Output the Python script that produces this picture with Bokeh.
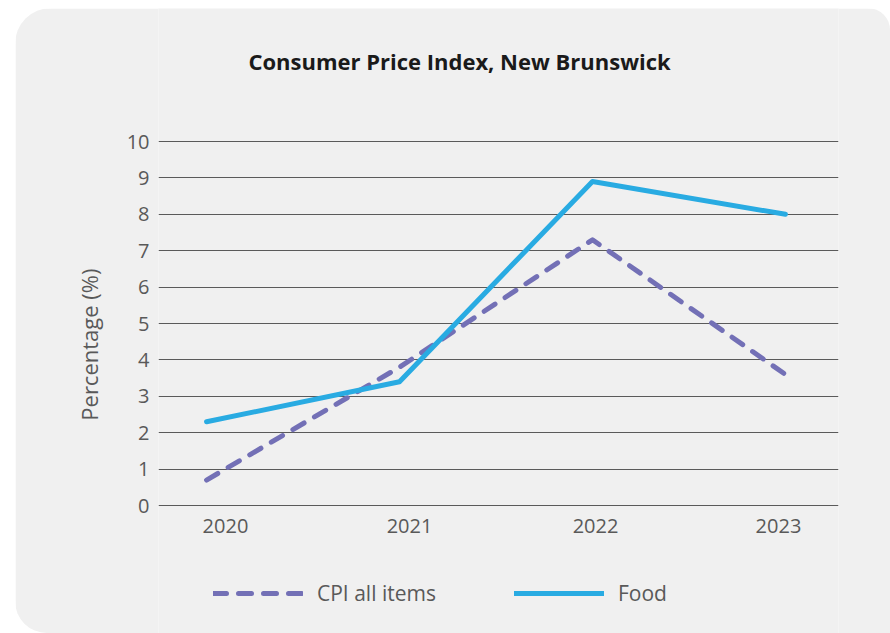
from bokeh.plotting import figure
from bokeh.models import Legend, LegendItem, FixedTicker, Title, ColumnDataSource, Label
from bokeh.core.properties import value
from bokeh.embed import file_html
from bokeh.resources import INLINE

years = ["2020", "2021", "2022", "2023"]
cpi_all = [0.7, 3.8, 7.3, 3.6]
food = [2.3, 3.4, 8.9, 8.0]
y_ticks = [0, 1, 2, 3, 4, 5, 6, 7, 8, 9, 10]

xs = list(range(len(years)))
# label positions nudged slightly like the original layout
label_pos = [0.098, 1.052, 2.016, 2.964]

BG = "#f0f0f0"
TXT = "#595959"

# the frame extends above 10 and below 0 so title, category labels and legend sit inside it
p = figure(width=875, height=625, output_backend="svg", toolbar_location=None,
           x_range=(-0.249, 3.275), y_range=(-3.516, 13.654),
           background_fill_color=BG, border_fill_color=BG,
           min_border_left=143, min_border_right=52, min_border_top=0, min_border_bottom=0,
           margin=(8, 0, 0, 15),
           styles={"border-radius": "36px 22px 0px 32px", "overflow": "hidden"})
p.outline_line_color = None

p.add_layout(Label(x=1.311, y=12.225, text="Consumer Price Index, New Brunswick",
                   text_align="center", text_baseline="middle",
                   text_font="Open Sans", text_font_size="22px", text_font_style="bold",
                   text_color="#1a1a1a"))

ylab = Title(text="Percentage (%)", align="right", offset=260, standoff=39,
             text_font="Open Sans", text_font_size="22px", text_font_style="normal",
             text_color=TXT)
p.add_layout(ylab, "left")

r1 = p.line(xs, cpi_all, line_color="#7370b6", line_width=5, line_dash="13 12",
            line_cap="round", line_join="round")
r2 = p.line(xs, food, line_color="#29abe2", line_width=5,
            line_cap="round", line_join="round")

# category labels
lab_src = ColumnDataSource(dict(x=label_pos, y=[-0.55] * len(years), text=years))
p.text(x="x", y="y", text="text", source=lab_src, text_align="center",
       text_baseline="middle", text_font=value("Open Sans"), text_font_size="20px",
       text_color=TXT)

p.xaxis.visible = False
p.xgrid.grid_line_color = None
p.ygrid.grid_line_color = "#5a5a5a"
p.ygrid.grid_line_width = 1.2
p.ygrid.ticker = FixedTicker(ticks=y_ticks)

ax = p.yaxis[0]
ax.ticker = FixedTicker(ticks=y_ticks)
ax.axis_line_color = None
ax.major_tick_line_color = None
ax.minor_tick_line_color = None
ax.major_label_text_font = "Open Sans"
ax.major_label_text_font_size = "20px"
ax.major_label_text_color = TXT
ax.major_label_standoff = 3

legend = Legend(items=[LegendItem(label="CPI all items", renderers=[r1]),
                       LegendItem(label="Food", renderers=[r2])],
                orientation="horizontal", location=(55, 26),
                glyph_width=90, glyph_height=20, label_standoff=14, spacing=78,
                padding=0, margin=0, border_line_color=None,
                background_fill_alpha=0,
                label_text_font="Open Sans", label_text_font_size="21px",
                label_text_color=TXT)
p.add_layout(legend, "center")

open("out.html", "w").write(file_html(p, INLINE))
